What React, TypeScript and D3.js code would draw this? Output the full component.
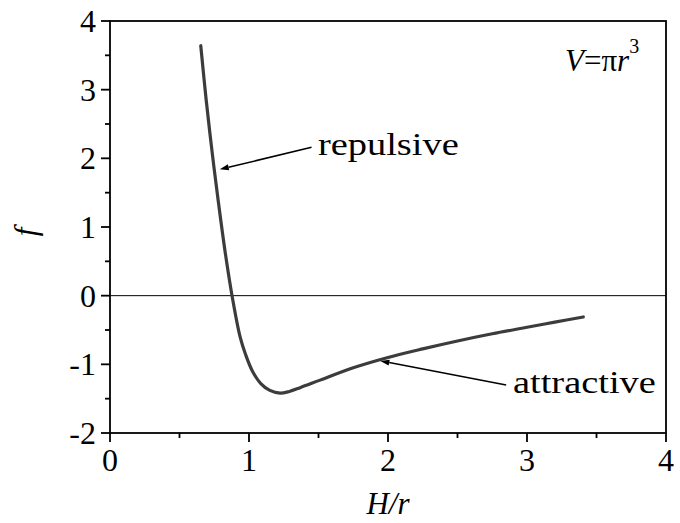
import React from "react";
import * as d3 from "d3";

// H/r values and force f
const hOverR = [0.653, 0.692, 0.733, 0.778, 0.826, 0.878, 0.936, 0.976, 1.025, 1.085, 1.15, 1.224, 1.29, 1.368, 1.512, 1.75, 2.0, 2.25, 2.5, 2.75, 3.0, 3.2, 3.405];
const force = [3.64, 2.85, 2.12, 1.39, 0.67, 0.0, -0.6, -0.86, -1.1, -1.28, -1.38, -1.42, -1.395, -1.34, -1.23, -1.05, -0.9, -0.775, -0.66, -0.555, -0.46, -0.385, -0.31];

const xTicks = [0, 1, 2, 3, 4];
const xTickLabels = ["0", "1", "2", "3", "4"];
const yTicks = [-2, -1, 0, 1, 2, 3, 4];
const yTickLabels = ["-2", "-1", "0", "1", "2", "3", "4"];
const xMinor = [0.5, 1.5, 2.5, 3.5];
const yMinor = [-1.5, -0.5, 0.5, 1.5, 2.5, 3.5];

// annotation anchors in data units: [tail, tip]
const repulsiveArrow = [[1.45, 2.16], [0.79, 1.84]];
const attractiveArrow = [[2.85, -1.3], [1.945, -0.95]];

const W = 680;
const H = 523;
const margin = { top: 21, right: 14, bottom: 90, left: 110 };
const font = "'Liberation Serif', 'Times New Roman', serif";

export default function App() {
  const x = d3.scaleLinear().domain([0, 4]).range([margin.left, W - margin.right]);
  const y = d3.scaleLinear().domain([-2, 4]).range([H - margin.bottom, margin.top]);
  const pts: [number, number][] = hOverR.map((h, i) => [x(h), y(force[i])]);
  const line = d3.line().curve(d3.curveCatmullRom.alpha(0.5));
  const x0 = x(0), x1 = x(4), y0 = y(-2), y1 = y(4);

  const arrow = (a: number[][], key: string) => {
    const [tx, ty] = [x(a[0][0]), y(a[0][1])];
    const [hx, hy] = [x(a[1][0]), y(a[1][1])];
    const ang = Math.atan2(hy - ty, hx - tx);
    const len = 9, wid = 3;
    const bx = hx - len * Math.cos(ang), by = hy - len * Math.sin(ang);
    const px = -Math.sin(ang) * wid, py = Math.cos(ang) * wid;
    return (
      <g key={key}>
        <line x1={tx} y1={ty} x2={bx} y2={by} stroke="#000" strokeWidth={1.5} />
        <path d={`M${hx},${hy}L${bx + px},${by + py}L${bx - px},${by - py}Z`} fill="#000" />
      </g>
    );
  };

  return (
    <svg width={W} height={H} style={{ position: "absolute", left: 0, top: 0, background: "#fff" }} fontFamily={font}>
      {/* zero line */}
      <line x1={x0} x2={x1} y1={y(0)} y2={y(0)} stroke="#000" strokeWidth={1} />
      {/* curve */}
      <path d={line(pts) || ""} fill="none" stroke="#3c3c3c" strokeWidth={3.2} strokeLinejoin="round" strokeLinecap="round" />
      {/* frame */}
      <rect x={x0} y={y1} width={x1 - x0} height={y0 - y1} fill="none" stroke="#000" strokeWidth={1.8} />
      {/* y ticks */}
      {yTicks.map((t, i) => (
        <g key={"y" + t}>
          <line x1={x0 - 9} x2={x0} y1={y(t)} y2={y(t)} stroke="#000" strokeWidth={1.8} />
          <text x={x0 - 14} y={y(t)} dy="0.34em" textAnchor="end" fontSize={32}>{yTickLabels[i]}</text>
        </g>
      ))}
      {yMinor.map(t => (
        <line key={"ym" + t} x1={x0 - 5} x2={x0} y1={y(t)} y2={y(t)} stroke="#000" strokeWidth={1.8} />
      ))}
      {/* x ticks */}
      {xTicks.map((t, i) => (
        <g key={"x" + t}>
          <line x1={x(t)} x2={x(t)} y1={y0} y2={y0 + 9} stroke="#000" strokeWidth={1.8} />
          <text x={x(t)} y={y0 + 38} textAnchor="middle" fontSize={32}>{xTickLabels[i]}</text>
        </g>
      ))}
      {xMinor.map(t => (
        <line key={"xm" + t} x1={x(t)} x2={x(t)} y1={y0} y2={y0 + 5} stroke="#000" strokeWidth={1.8} />
      ))}
      {/* axis titles */}
      <text x={(x0 + x1) / 2} y={514} textAnchor="middle" fontSize={31} fontStyle="italic">H/r</text>
      <text transform={`translate(36,${(y0 + y1) / 2 + 5}) rotate(-90)`} textAnchor="middle" fontSize={31} fontStyle="italic">f</text>
      {/* annotations */}
      {arrow(repulsiveArrow, "rep")}
      {arrow(attractiveArrow, "att")}
      <text transform="translate(318,155) scale(1.2,1)" fontSize={32}>repulsive</text>
      <text transform="translate(513,393) scale(1.2,1)" fontSize={32}>attractive</text>
      <text x={565} y={71} fontSize={31}>
        <tspan fontStyle="italic">V</tspan>
        <tspan>=π</tspan>
        <tspan fontStyle="italic">r</tspan>
        <tspan fontSize={20} dy={-18}>3</tspan>
      </text>
    </svg>
  );
}
